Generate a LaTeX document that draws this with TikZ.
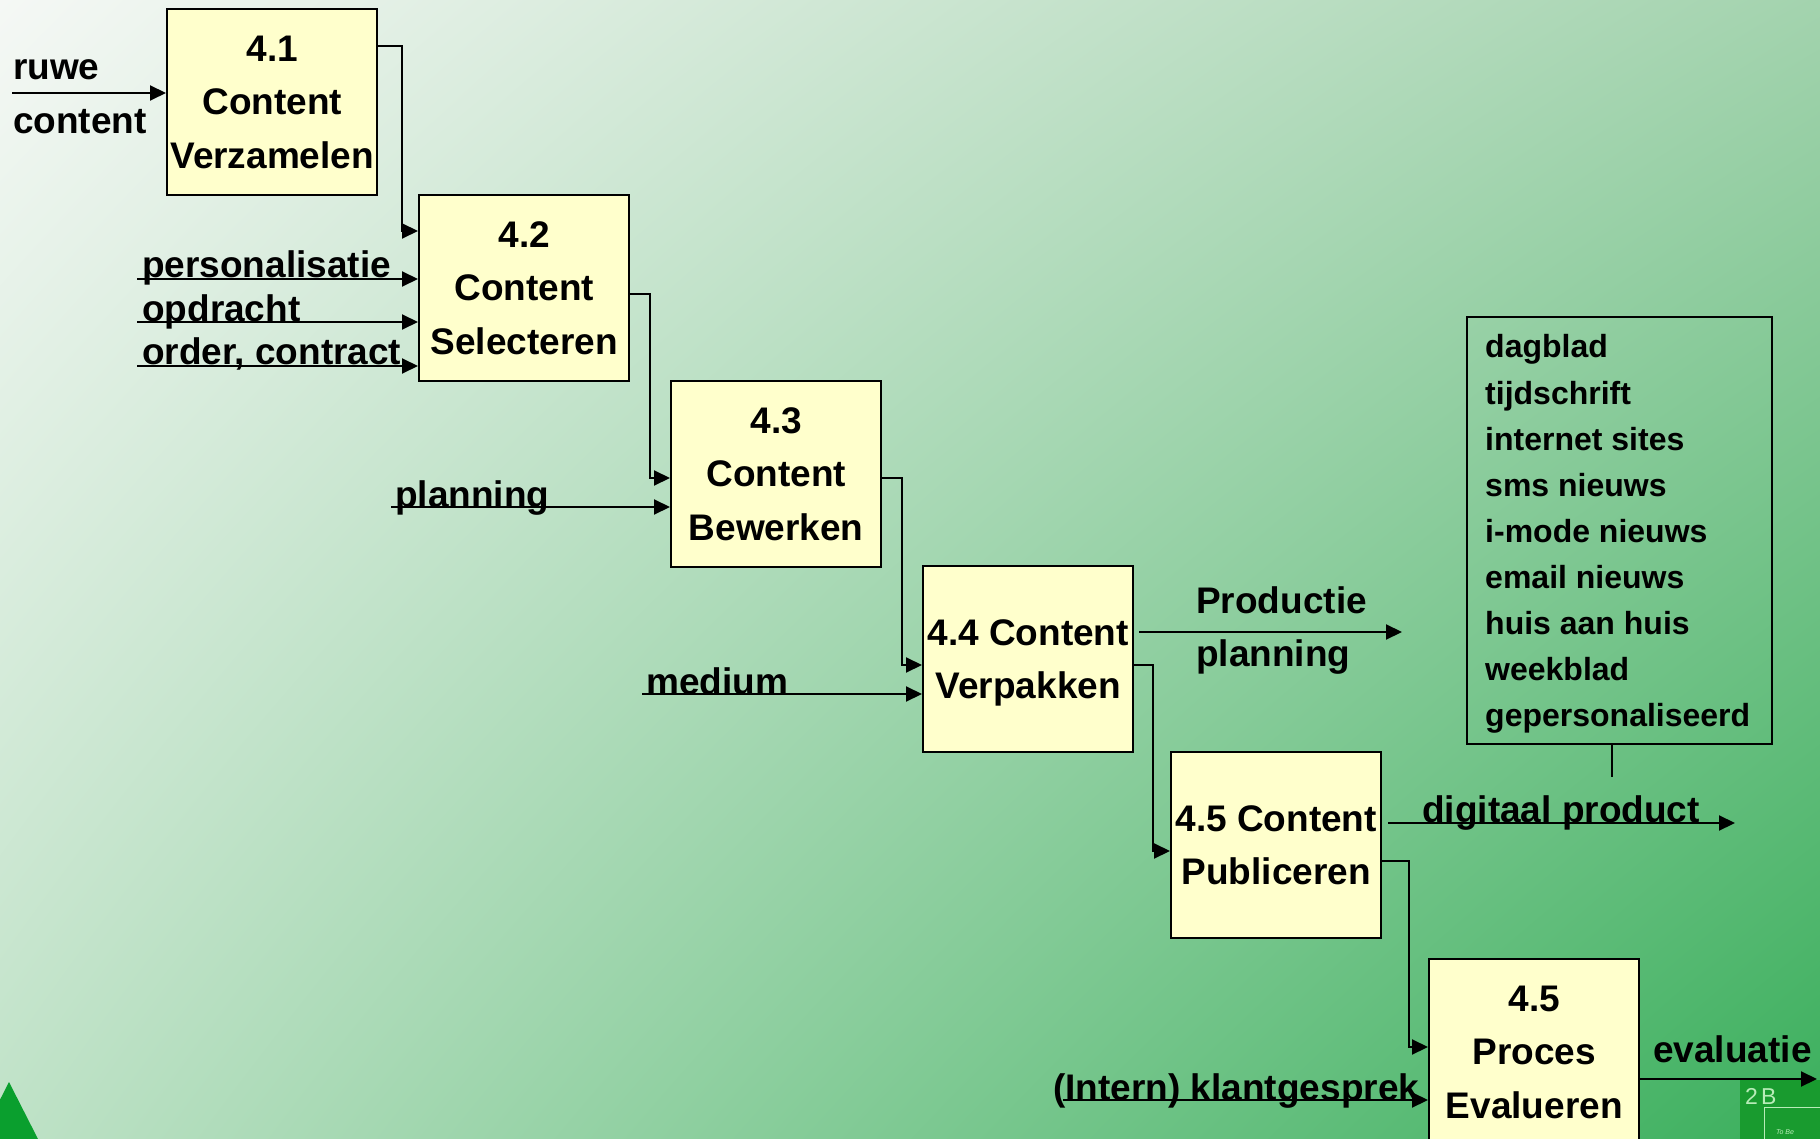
\documentclass[tikz,border=0pt]{standalone}
\usepackage{fontspec}
\setmainfont{Liberation Sans}
\setsansfont{Liberation Sans}
\usetikzlibrary{arrows.meta,shadings}

\definecolor{bgTL}{HTML}{F5F8F5}
\definecolor{bgTR}{HTML}{A3D3AE}
\definecolor{bgBL}{HTML}{BFE2C7}
\definecolor{bgBR}{HTML}{3AAF5C}
\definecolor{procfill}{HTML}{FFFFCC}
\definecolor{cornergreen}{HTML}{0A9F2E}
\definecolor{logogreen}{HTML}{199B2F}
\definecolor{logotext}{HTML}{B8ECB8}

\begin{document}
\begin{tikzpicture}[x=1pt,y=-1pt,
  proc/.style={draw=black, line width=2.4pt, fill=procfill,
    minimum width=210pt, minimum height=186pt, inner sep=0pt,
    align=center, anchor=north west,
    font=\fontsize{37}{53.5}\selectfont\bfseries},
  flow/.style={line width=2pt, -{Triangle[length=16pt,width=15pt]}},
  lbl/.style={anchor=base west, inner sep=0pt,
    font=\fontsize{37}{53.5}\selectfont\bfseries},
]
\useasboundingbox (0,0) rectangle (1820,1139);
\clip (0,0) rectangle (1820,1139);

% background
\shade[upper left=bgTL, upper right=bgTR, lower left=bgBL, lower right=bgBR]
  (0,0) rectangle (1820,1139);
\fill[cornergreen] (-20,1139) -- (9,1082) -- (38,1139) -- cycle;

% logo in the corner
\fill[logogreen] (1740,1080) rectangle (1820,1139);
\node[anchor=base west, inner sep=0pt, text=logotext,
  font=\fontsize{23}{23}\selectfont] (logoMark) at (1745,1104) {2\kern3pt B};
\draw[logotext, line width=0.8pt] (1764,1140) -- (1764,1107) -- (1821,1107);
\node[inner sep=0pt, text=logotext, font=\fontsize{7}{7}\selectfont\itshape]
  (logoSub) at (1785,1132) {To Be};

% process boxes
\node[proc] (p41) at (166,8)    {4.1\\Content\\Verzamelen};
\node[proc] (p42) at (418,194)  {4.2\\Content\\Selecteren};
\node[proc] (p43) at (670,380)  {4.3\\Content\\Bewerken};
\node[proc, text depth=0pt] (p44) at (922,565) {4.4 Content\\Verpakken};
\node[proc] (p45) at (1170,751) {4.5 Content\\Publiceren};
\node[proc] (p46) at (1428,958) {4.5\\Proces\\Evalueren};

% flow between the boxes
\draw[flow] ([yshift=-38pt]p41.north east) -- ++(24,0) |- ([yshift=-37pt]p42.north west);
\draw[flow] ([yshift=-100pt]p42.north east) -- ++(20,0) |- ([yshift=-98pt]p43.north west);
\draw[flow] ([yshift=-98pt]p43.north east) -- ++(20,0) |- ([yshift=-100pt]p44.north west);
\draw[flow] ([yshift=-100pt]p44.north east) -- ++(19,0) |- ([yshift=-100pt]p45.north west);
\draw[flow] ([yshift=-110pt]p45.north east) -- ++(27,0) |- ([yshift=-89pt]p46.north west);

% inputs
\coordinate (inRuwe) at (12,93);
\node[lbl] (tRuwe) at (13,80) {ruwe};
\node[lbl] (tContent) at (13,134) {content};
\draw[flow] (inRuwe) -- (inRuwe -| p41.west);

\coordinate (inPers) at (137,279);
\node[lbl] (tPers) at (142,278) {personalisatie};
\draw[flow] (inPers) -- (inPers -| p42.west);

\coordinate (inOpdr) at (137,322);
\node[lbl] (tOpdr) at (142,322) {opdracht};
\draw[flow] (inOpdr) -- (inOpdr -| p42.west);

\coordinate (inOrder) at (137,366);
\node[lbl] (tOrder) at (142,365) {order, contract};
\draw[flow] (inOrder) -- (inOrder -| p42.west);

\coordinate (inPlan) at (391,507);
\node[lbl] (tPlan) at (395,507) {planning};
\draw[flow] (inPlan) -- (inPlan -| p43.west);

\coordinate (inMedium) at (642,694);
\node[lbl] (tMedium) at (646,694) {medium};
\draw[flow] (inMedium) -- (inMedium -| p44.west);

\coordinate (inKlant) at (1063,1100);
\node[lbl] (tKlant) at (1053,1100) {(Intern) klantgesprek};
\draw[flow] (inKlant) -- (inKlant -| p46.west);

% outputs
\coordinate (outProd) at (1402,632);
\node[lbl] (tProd1) at (1196,613) {Productie};
\node[lbl] (tProd2) at (1196,666) {planning};
\draw[flow] ([xshift=5pt,yshift=-67pt]p44.north east) -- (outProd);

\coordinate (outDigi) at (1735,823);
\node[lbl] (tDigi) at (1422,822) {digitaal product};
\draw[flow] ([xshift=6pt,yshift=-72pt]p45.north east) -- (outDigi);

\coordinate (outEval) at (1817,1079);
\node[lbl] (tEval) at (1653,1062) {evaluatie};
\draw[flow] ([yshift=-121pt]p46.north east) -- (outEval);

% media list
\node[draw=black, line width=2.4pt, minimum width=305pt, minimum height=427pt,
  inner sep=0pt, anchor=north west] (media) at (1466,316) {};
\node[anchor=base west, inner sep=0pt, font=\fontsize{32}{46}\selectfont\bfseries]
  (mediaList) at (1485,358) {\vtop{\baselineskip=46.1pt
    \hbox{dagblad}\hbox{tijdschrift}\hbox{internet sites}\hbox{sms nieuws}
    \hbox{i-mode nieuws}\hbox{email nieuws}\hbox{huis aan huis}\hbox{weekblad}
    \hbox{gepersonaliseerd}}};
\draw[line width=2.4pt] ([xshift=-8pt]media.south) -- ++(0,32);

\end{tikzpicture}
\end{document}
